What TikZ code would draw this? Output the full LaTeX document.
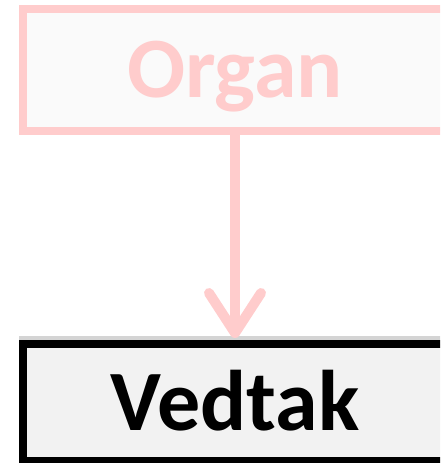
\documentclass[tikz,border=0pt]{standalone}
\usepackage{fontspec}
\setmainfont{Carlito}
\usepackage{tikz}
\usetikzlibrary{positioning,arrows.meta}
\definecolor{organpink}{HTML}{FFCCCC}
\definecolor{organfill}{HTML}{FAFAFA}
\definecolor{vedtakfill}{HTML}{F2F2F2}
\definecolor{edgegray}{HTML}{D4D4D4}

\begin{document}
\begin{tikzpicture}[x=1pt, y=-1pt, node distance=213pt,
    box/.style={rectangle, line width=8pt, outer sep=0pt, inner sep=0pt,
      minimum width=424pt, font=\fontsize{86}{90}\selectfont\bfseries,
      text height=55pt, text depth=0pt},
    organbox/.style={box, draw=organpink, fill=organfill, text=organpink,
      minimum height=122pt},
    vedtakbox/.style={box, draw=black, fill=vedtakfill, text=black,
      minimum height=117pt},
    flow/.style={draw=organpink, line width=10pt,
      -{Straight Barb[length=40pt, width=52pt, round]}, shorten >=6pt}]
% one coordinate unit is one pixel of the 440 x 463 frame
\useasboundingbox (0,0) rectangle (440,463);
\clip (0,0) rectangle (440,463);
\node[organbox] (organ) at (235,70) {Organ};
\node[vedtakbox, below=of organ] (vedtak) {Vedtak};
\draw[edgegray, line width=3.5pt] ([xshift=-4pt, yshift=6pt]vedtak.north west)
  -- ([xshift=4pt, yshift=6pt]vedtak.north east);
\draw[flow] (organ.south) -- (vedtak.north);
\end{tikzpicture}
\end{document}
